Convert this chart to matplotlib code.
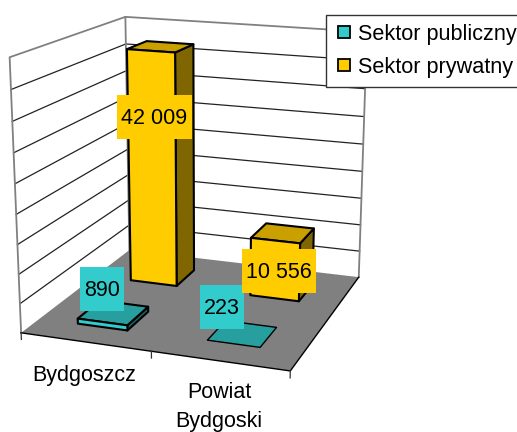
import numpy as np
import matplotlib
matplotlib.use('Agg')
import matplotlib.pyplot as plt
from matplotlib.lines import Line2D
from matplotlib.patches import Polygon, Rectangle

plt.rcParams['font.family'] = ['Liberation Sans', 'DejaVu Sans']

# chart data
categories = ['Bydgoszcz', 'Powiat\nBydgoski']
series_names = ['Sektor publiczny', 'Sektor prywatny']
publiczny = [890, 223]
prywatny = [42009, 10556]
value_labels = [['890', '223'], ['42 009', '10 556']]
z_max = 45000
z_step = 5000

# colours: front, top, side
face_colors = [['#33CCCC', '#289F9F', '#1A6666'], ['#FFCC00', '#C9A000', '#806600']]

# where the corners of the chart box land on the image (x, depth, z) -> pixel
box_corners = [(0, 0, 0), (2, 0, 0), (2, 1, 0), (0, 1, 0), (0, 0, 1), (0, 1, 1), (2, 1, 1)]
box_pixels = [(21.5, 333), (290, 371), (359, 277), (129, 250), (9.5, 57), (125.5, 17), (367, 32)]

# label boxes: centre and size in pixels
label_centres = [[(102, 289), (222, 307)], [(154.5, 117), (279, 271)]]
label_sizes = [[(44, 44), (44, 44)], [(75, 44), (74, 44)]]

# fit the projection from the corners
A = []
b = []
for (x, y, z), (u, v) in zip(box_corners, box_pixels):
    A.append([x, y, z, 1, 0, 0, 0, 0, -u * x, -u * y, -u * z])
    A.append([0, 0, 0, 0, x, y, z, 1, -v * x, -v * y, -v * z])
    b += [u, v]
P = np.linalg.lstsq(np.array(A, dtype=float), np.array(b, dtype=float), rcond=None)[0]
P = np.append(P, 1).reshape(3, 4)


def proj(x, y, value):
    p = P @ np.array([x, y, value / z_max, 1.0])
    return p[0] / p[2], p[1] / p[2]


fig = plt.figure(figsize=(5.17, 4.32), dpi=100)
ax = fig.add_axes([0, 0, 1, 1])
ax.set_xlim(0, 517)
ax.set_ylim(432, 0)
ax.axis('off')

gray = '#808080'

# walls and floor
ax.add_patch(Polygon([proj(0, 0, 0), proj(0, 1, 0), proj(0, 1, z_max), proj(0, 0, z_max)], fc='white', ec='none', zorder=1))
ax.add_patch(Polygon([proj(0, 1, 0), proj(2, 1, 0), proj(2, 1, z_max), proj(0, 1, z_max)], fc='white', ec='none', zorder=1))
ax.add_patch(Polygon([proj(0, 0, 0), proj(2, 0, 0), proj(2, 1, 0), proj(0, 1, 0)], fc=gray, ec='none', zorder=2))

# gridlines
for val in range(z_step, z_max, z_step):
    pts = [proj(0, 0, val), proj(0, 1, val), proj(2, 1, val)]
    ax.plot(*zip(*pts), color='#222222', lw=0.9, zorder=1.5)

# wall frame
frame = [proj(0, 0, 0), proj(0, 0, z_max), proj(0, 1, z_max), proj(2, 1, z_max), proj(2, 1, 0)]
ax.plot(*zip(*frame), color=gray, lw=1.3, zorder=1.6)
ax.plot(*zip(proj(0, 1, 0), proj(0, 1, z_max)), color=gray, lw=1.3, zorder=1.6)

# floor front and right edges, category ticks
ax.plot(*zip(proj(0, 0, 0), proj(2, 0, 0), proj(2, 1, 0)), color='black', lw=1.0, zorder=2.5)
for i in range(3):
    ax.plot(*zip(proj(i, 0, 0), proj(i, 0, -1150)), color='#333333', lw=0.9, zorder=2.5)

# bars, back row first
bar_w = 0.195
bar_d = 0.1
for s, values in reversed(list(enumerate([publiczny, prywatny]))):
    yc = 0.25 + 0.5 * s
    for c, val in enumerate(values):
        xc = c + 0.5
        x0, x1 = xc - bar_w, xc + bar_w
        y0, y1 = yc - bar_d, yc + bar_d
        front, top, side = face_colors[s]
        # the very low bar only shows its top, with a thin outline
        if val < 500:
            faces = [([proj(x0, y0, val), proj(x1, y0, val), proj(x1, y1, val), proj(x0, y1, val)], top)]
            edge_w = 1.0
        else:
            faces = [
                ([proj(x1, y0, 0), proj(x1, y1, 0), proj(x1, y1, val), proj(x1, y0, val)], side),
                ([proj(x0, y0, val), proj(x1, y0, val), proj(x1, y1, val), proj(x0, y1, val)], top),
                ([proj(x0, y0, 0), proj(x1, y0, 0), proj(x1, y0, val), proj(x0, y0, val)], front),
            ]
            edge_w = 1.5
        for pts, col in faces:
            ax.add_patch(Polygon(pts, fc=col, ec='black', lw=edge_w, joinstyle='round', zorder=3 + (1 - s)))

# value labels
for s in range(2):
    for c in range(2):
        cx, cy = label_centres[s][c]
        w, h = label_sizes[s][c]
        ax.add_patch(Rectangle((cx - w / 2, cy - h / 2), w, h, fc=face_colors[s][0], ec='none', zorder=6))
        ax.text(cx, cy + 1, value_labels[s][c], fontsize=15.5, ha='center', va='center', color='black', zorder=7)

# category labels
ax.text(84, 376, categories[0], fontsize=15.5, ha='center', va='center', zorder=7)
ax.text(219, 406.5, categories[1], fontsize=15.5, ha='center', va='center', linespacing=1.5, zorder=7)

# legend
handles = [Line2D([], [], ls='none', marker='s', ms=8, mfc=face_colors[i][0], mec='black', mew=1.3) for i in range(2)]
leg = ax.legend(handles, series_names, loc='upper left', bbox_to_anchor=(325.5 / 517, 1 - 15 / 432),
                borderaxespad=0, fancybox=False, framealpha=1, edgecolor='#333333', fontsize=15.6,
                handlelength=0.95, handletextpad=0.15, labelspacing=0.57, borderpad=0.4)
leg.set_zorder(8)
leg.get_frame().set_linewidth(1.0)

fig.savefig('out.png', dpi=100)
